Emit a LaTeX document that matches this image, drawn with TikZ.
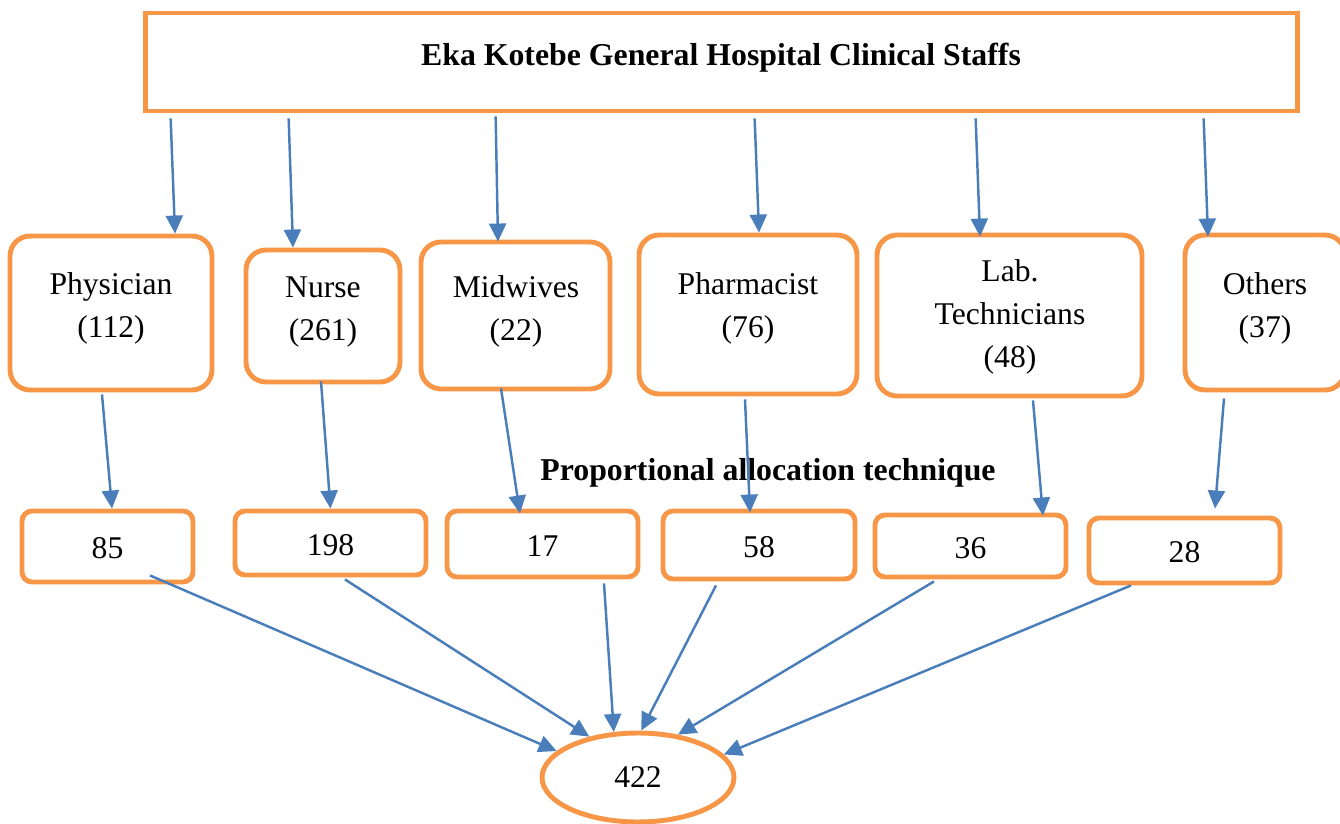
\documentclass[tikz,border=0pt]{standalone}
\usepackage{fontspec}
\setmainfont{Liberation Serif}
\usetikzlibrary{arrows.meta,calc,shapes.geometric}
\definecolor{boxorange}{RGB}{247,150,70}
\definecolor{arrowblue}{RGB}{74,126,187}

\begin{document}
\begin{tikzpicture}[x=0.02cm,y=-0.02cm]
\tikzstyle{every node}+=[inner sep=0pt]
\tikzstyle{catbox}=[draw=boxorange,line width=2.8pt,rounded corners=0.4cm]
\tikzstyle{numbox}=[draw=boxorange,line width=2.8pt,rounded corners=0.2cm,font=\fontsize{18}{22}\selectfont,text height=14pt]
\tikzstyle{txt}=[align=center,font=\fontsize{18}{24.5}\selectfont]
\tikzstyle{arr}=[draw=arrowblue,line width=1.4pt,-{Triangle[length=0.36cm,width=0.34cm]}]
\useasboundingbox (0,0) rectangle (1340,824);

\node[draw=boxorange,line width=2.8pt,minimum width=23.06cm,minimum height=1.96cm] (staff) at (721.5,62) {};
\node[font=\bfseries\fontsize{18.1}{22}\selectfont] at (721,58) {Eka Kotebe General Hospital Clinical Staffs};

\node[catbox,minimum width=4.04cm,minimum height=3.08cm] (phys) at (111,313) {};
\node[txt] at (111,308) {Physician\\(112)};
\node[catbox,minimum width=3.08cm,minimum height=2.64cm] (nurse) at (323,316) {};
\node[txt] at (323,312) {Nurse\\(261)};
\node[catbox,minimum width=3.78cm,minimum height=2.94cm] (midw) at (515.5,315.5) {};
\node[txt] at (516,311) {Midwives\\(22)};
\node[catbox,minimum width=4.36cm,minimum height=3.18cm] (pharm) at (748,314.5) {};
\node[txt] at (748,308.5) {Pharmacist\\(76)};
\node[catbox,minimum width=5.3cm,minimum height=3.22cm] (lab) at (1009.5,315.5) {};
\node[txt] at (1010,316.5) {Lab.\\Technicians\\(48)};
\node[catbox,minimum width=3.2cm,minimum height=3.1cm] (others) at (1265,312.5) {};
\node[txt] at (1265,308) {Others\\(37)};

\node[numbox,minimum width=3.42cm,minimum height=1.42cm] (n85) at (107.5,546.5) {85};
\node[numbox,minimum width=3.82cm,minimum height=1.28cm] (n198) at (330.5,543) {198};
\node[numbox,minimum width=3.82cm,minimum height=1.32cm] (n17) at (542.5,544) {17};
\node[numbox,minimum width=3.84cm,minimum height=1.36cm] (n58) at (759,545) {58};
\node[numbox,minimum width=3.82cm,minimum height=1.24cm] (n36) at (970.5,546) {36};
\node[numbox,minimum width=3.82cm,minimum height=1.3cm] (n28) at (1184.5,550.5) {28};

\node[ellipse,draw=boxorange,line width=2.8pt,minimum width=3.84cm,minimum height=1.78cm,font=\fontsize{18}{22}\selectfont] (total) at (638,777.5) {422};

\node[font=\bfseries\fontsize{18.1}{22}\selectfont] at (768,473) {Proportional allocation technique};

\draw[arr] ($(staff.south west)+(28,5)$) -- ($(phys.north)+(64,0)$);
\draw[arr] ($(staff.south west)+(146,5)$) -- ($(nurse.north)+(-30,0)$);
\draw[arr] ($(staff.south west)+(353,3)$) -- ($(midw.north)+(-17.5,2)$);
\draw[arr] ($(staff.south west)+(612,5)$) -- ($(pharm.north)+(11,0)$);
\draw[arr] ($(staff.south west)+(833,5)$) -- ($(lab.north)+(-29.5,4)$);
\draw[arr] ($(staff.south west)+(1061,5)$) -- ($(others.north)+(-57,4)$);

\draw[arr] ($(phys.south)+(-9,2)$) -- ($(n85.north)+(4.5,0)$);
\draw[arr] ($(nurse.south)+(-2,-3)$) -- ($(n198.north)+(0,0)$);
\draw[arr] ($(midw.south)+(-14.5,-3)$) -- ($(n17.north)+(-22.5,5)$);
\draw[arr] ($(pharm.south)+(-3,3)$) -- ($(n58.north)+(-9,4)$);
\draw[arr] ($(lab.south)+(23.5,2)$) -- ($(n36.north)+(72.5,3)$);
\draw[arr] ($(others.south)+(-41,6)$) -- ($(n28.north)+(30.5,-7)$);

\draw[arr] ($(n85.south)+(42.5,-9)$) -- (total.162);
\draw[arr] ($(n198.south)+(14.5,2)$) -- (total.140);
\draw[arr] ($(n17.south)+(61.5,4)$) -- (total.118);
\draw[arr] ($(n58.south)+(-43,4)$) -- (total.86);
\draw[arr] ($(n36.south)+(-36.5,2)$) -- (total.47);
\draw[arr] ($(n28.south)+(-53.5,0)$) -- (total.15);
\end{tikzpicture}
\end{document}
